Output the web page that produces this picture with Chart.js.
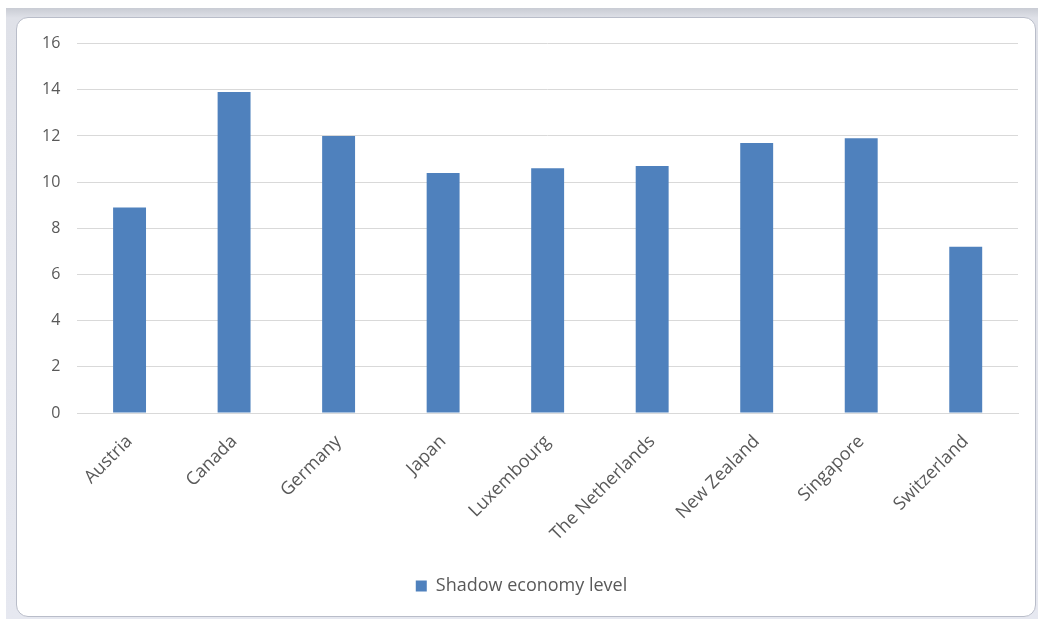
<!DOCTYPE html>
<html lang="en">
<head>
<meta charset="UTF-8">
<title>Shadow economy level</title>
<script src="https://cdn.jsdelivr.net/npm/chart.js"></script>
<style>
body{
  margin:0;
  background:white;
  width:1040px;
  height:619px;
  overflow:hidden;
  font-family:"Open Sans";
}
.frame{
  position:absolute;
  left:6px;
  top:8px;
  width:1032px;
  height:611px;
  background:linear-gradient(#c9ccd4,#dfe1e8 10px,#e6e8f0);
}
.panel{
  position:absolute;
  left:10px;
  top:9px;
  right:2px;
  bottom:2px;
  background:white;
  border:1px solid #b9bdc9;
  border-radius:12px;
}
.wrap{
  position:absolute;
  left:16px;
  top:17px;
  width:1020px;
  height:600px;
}
</style>
</head>
<body>

<div class="frame"><div class="panel"></div></div>
<div class="wrap"><canvas id="chart" width="1020" height="600"></canvas></div>

<script>
const countries = ["Austria","Canada","Germany","Japan","Luxembourg","The Netherlands","New Zealand","Singapore","Switzerland"];
const shadowLevel = [8.9, 13.9, 12.0, 10.4, 10.6, 10.7, 11.7, 11.9, 7.2];
const yTicks = [0, 2, 4, 6, 8, 10, 12, 14, 16];

const ctx = document.getElementById('chart');

new Chart(ctx,{
  type:'bar',
  data:{
    labels:countries,
    datasets:[{
      label:'Shadow economy level',
      data:shadowLevel,
      backgroundColor:'#4f81bd',
      barPercentage:0.315,
      categoryPercentage:1
    }]
  },
  options:{
    responsive:false,
    animation:false,
    layout:{padding:{left:9, right:18, top:24, bottom:12}},
    scales:{
      x:{
        grid:{display:false, drawTicks:false},
        border:{color:'#d9d9d9'},
        afterFit:axis=>{ axis.height = 154; },
        ticks:{
          color:'#595959',
          font:{family:'Open Sans', size:18},
          maxRotation:45,
          minRotation:45,
          padding:18
        }
      },
      y:{
        min:0,
        max:16,
        afterBuildTicks:axis=>{ axis.ticks = yTicks.map(v=>({value:v})); },
        grid:{color:'#d9d9d9', drawTicks:false},
        border:{display:false},
        ticks:{
          color:'#595959',
          font:{family:'Open Sans', size:16},
          padding:17
        }
      }
    },
    plugins:{
      legend:{
        position:'bottom',
        labels:{
          color:'#595959',
          font:{family:'Open Sans', size:18},
          boxWidth:11,
          boxHeight:11,
          padding:10
        }
      },
      tooltip:{enabled:false}
    }
  }
});
</script>

</body>
</html>
